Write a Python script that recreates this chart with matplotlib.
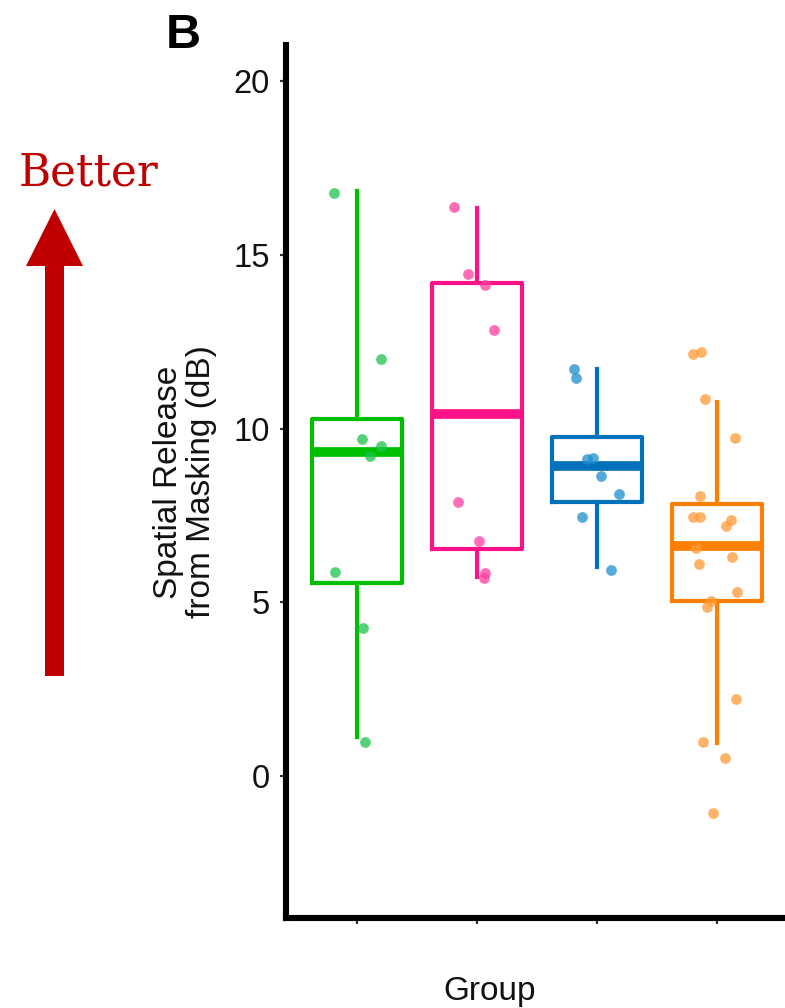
import matplotlib
matplotlib.use("Agg")
import matplotlib.pyplot as plt
from matplotlib.patches import FancyArrow

# ---- data -------------------------------------------------------------
groups = [1, 2, 3, 4]
box_colors = ["#00BF00", "#FF1188", "#0072BB", "#FF8000"]
point_colors = ["#1DC24E", "#FF3D9E", "#1C8FCC", "#FF9A35"]

# box-plot summary per group (whiskers end at the most extreme non-outlier)
q1 = [5.55, 6.52, 7.89, 5.04]
medians = [9.32, 10.42, 8.93, 6.62]
q3 = [10.27, 14.18, 9.76, 7.83]
whisker_low = [1.12, 5.74, 6.01, 0.94]
whisker_high = [16.84, 16.34, 11.70, 10.77]

# individual observations and their horizontal jitter
green_values = [16.77, 12.00, 9.70, 9.50, 9.21, 5.88, 4.26, 0.99]
green_jitter = [-0.19, 0.20, 0.04, 0.20, 0.11, -0.18, 0.05, 0.07]
pink_values = [16.37, 14.45, 14.13, 12.83, 7.89, 6.77, 5.85, 5.69]
pink_jitter = [-0.19, -0.07, 0.07, 0.14, -0.16, 0.02, 0.07, 0.06]
blue_values = [11.72, 11.45, 9.12, 9.15, 8.64, 8.11, 7.46, 5.94]
blue_jitter = [-0.19, -0.17, -0.08, -0.03, 0.04, 0.19, -0.12, 0.12]
orange_values = [12.14, 12.20, 10.85, 9.72, 8.06, 7.46, 7.46, 7.37, 7.20,
                 6.55, 6.10, 6.30, 5.30, 5.04, 4.85, 2.22, 0.99, 0.51, -1.06]
orange_jitter = [-0.20, -0.13, -0.10, 0.15, -0.14, -0.20, -0.14, 0.12, 0.08,
                 -0.17, -0.15, 0.13, 0.17, -0.05, -0.08, 0.16, -0.11, 0.07, -0.03]

y_ticks = [0, 5, 10, 15, 20]
y_label = "Spatial Release\nfrom Masking (dB)"
x_label = "Group"
panel_tag = "B"
hint_text = "Better"

# ---- figure -----------------------------------------------------------
W, H = 785, 1008
fig = plt.figure(figsize=(W / 100, H / 100), dpi=100)
sans = ["Liberation Sans", "DejaVu Sans"]

ax = fig.add_axes([286 / W, (H - 918) / H, 505 / W, (918 - 45) / H])
ax.set_xlim(0.41, 4.62)
ax.set_ylim(-4.09, 21.04)

stats = []
for i in range(len(groups)):
    stats.append(dict(med=medians[i], q1=q1[i], q3=q3[i],
                      whislo=whisker_low[i], whishi=whisker_high[i]))

for i, g in enumerate(groups):
    c = box_colors[i]
    ax.bxp([stats[i]], positions=[g], widths=0.75, showfliers=False,
           showcaps=False, patch_artist=False,
           boxprops=dict(color=c, linewidth=3.0),
           whiskerprops=dict(color=c, linewidth=3.0),
           medianprops=dict(color=c, linewidth=7.0, solid_capstyle="butt"),
           manage_ticks=False)

point_sets = [(green_values, green_jitter), (pink_values, pink_jitter),
              (blue_values, blue_jitter), (orange_values, orange_jitter)]
for i, (vals, jit) in enumerate(point_sets):
    xs = [groups[i] + j for j in jit]
    ax.scatter(xs, vals, s=60, color=point_colors[i], alpha=0.75,
               linewidths=0, zorder=5)

for side in ["top", "right"]:
    ax.spines[side].set_visible(False)
for side in ["left", "bottom"]:
    ax.spines[side].set_linewidth(4.4)
    ax.spines[side].set_color("black")
    ax.spines[side].set_capstyle("projecting")

ax.set_xticks(groups)
ax.set_xticklabels([])
ax.set_yticks(y_ticks)
ax.set_yticklabels([str(t) for t in y_ticks], fontsize=23.5, family=sans,
                   color="#111111")
ax.tick_params(axis="both", length=4.5, width=1.6, color="#333333", pad=7)

# ---- annotations in pixel space ----------------------------------------
ov = fig.add_axes([0, 0, 1, 1], facecolor="none")
ov.set_xlim(0, W)
ov.set_ylim(H, 0)
ov.axis("off")

ov.text(185, 482, y_label, rotation=90, ha="center", va="center",
        multialignment="center", fontsize=24, family=sans, color="#111111",
        linespacing=1.1)
ov.text(490, 1000, x_label, ha="center", va="baseline", fontsize=24,
        family=sans, color="#111111")
ov.text(166, 48, panel_tag, ha="left", va="baseline", fontsize=35,
        family=sans, fontweight="bold", color="black")
ov.text(19, 186, hint_text, ha="left", va="baseline", fontsize=31.5,
        family=["DejaVu Serif"], color="#C00000")

ov.add_patch(FancyArrow(54.5, 676, 0, -(676 - 209), width=19,
                        head_width=57, head_length=57,
                        length_includes_head=True, color="#C00000",
                        linewidth=0))

fig.savefig("out.png", dpi=100)
